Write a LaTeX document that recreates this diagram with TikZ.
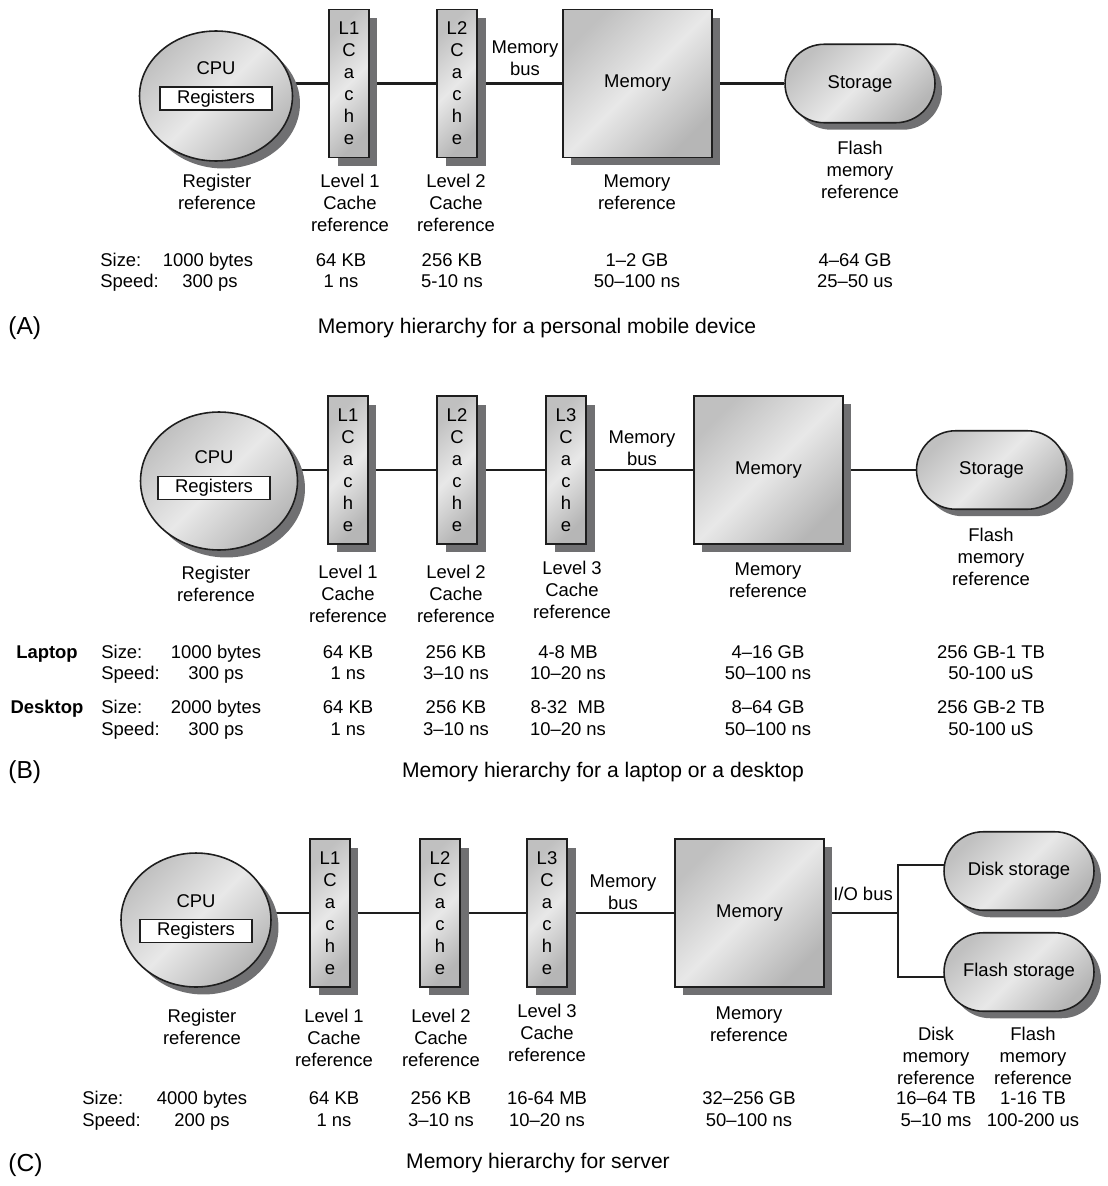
\documentclass[tikz,border=0pt]{standalone}
\usepackage{fontspec}
\setmainfont{Liberation Sans}
\usetikzlibrary{positioning,shapes.misc,shapes.geometric,shadows,backgrounds}
\definecolor{hwshadow}{HTML}{707072}
\definecolor{hwlight}{HTML}{E8E8E8}
\definecolor{hwtop}{HTML}{C0C0C0}
\definecolor{hwbottom}{HTML}{B6B6B6}
\definecolor{hwline}{HTML}{1E1E1E}
\tikzset{
  hwpart/.style={
    draw=hwline,
    line width=0.9pt,
    top color=hwtop,
    bottom color=hwbottom,
    middle color=hwlight,
    shading angle=45,
    inner sep=0pt
  },
  cpu/.style={
    hwpart,
    ellipse,
    drop shadow={shadow xshift=0.15cm, shadow yshift=-0.15cm, fill=hwshadow, opacity=1}
  },
  regs/.style={
    draw=hwline,
    fill=white,
    line width=0.6pt,
    minimum width=2.24cm,
    minimum height=0.46cm,
    inner sep=0pt
  },
  cache/.style={
    hwpart,
    rectangle,
    align=center,
    minimum width=0.8cm,
    minimum height=2.96cm,
    drop shadow={shadow xshift=0.17cm, shadow yshift=-0.17cm, fill=hwshadow, opacity=1}
  },
  mem/.style={
    hwpart,
    rectangle,
    minimum width=2.98cm,
    minimum height=2.96cm,
    drop shadow={shadow xshift=0.16cm, shadow yshift=-0.16cm, fill=hwshadow, opacity=1}
  },
  store/.style={
    hwpart,
    rounded rectangle,
    minimum width=3.0cm,
    minimum height=1.57cm,
    drop shadow={shadow xshift=0.14cm, shadow yshift=-0.14cm, fill=hwshadow, opacity=1}
  },
  lbl/.style={align=center, inner sep=0pt},
  val/.style={inner sep=0pt, text height=7.8pt, text depth=2.3pt},
  row/.style={val, anchor=west},
  kind/.style={val, font=\fontsize{10.5}{12.5}\selectfont\bfseries},
  tag/.style={anchor=west, inner sep=0pt, font=\fontsize{14}{16}\selectfont},
  figcap/.style={inner sep=0pt, font=\fontsize{12}{14}\selectfont},
  bus/.style={draw=hwline, line width=1.4pt}
}

\begin{document}
\begin{tikzpicture}[x=0.02cm, y=-0.02cm, font=\fontsize{10.5}{12.5}\selectfont]
\useasboundingbox (0,0) rectangle (1107,1186);

% (A) personal mobile device
\node[cpu, minimum width=3.06cm, minimum height=2.6cm] (cpuA) at (216,96) {};
\node[val] (cpuTxtA) at (216,70) {CPU};
\node[regs] (regA) at (216,98.5) {Registers};
\node[cache] (l1A) at (349,83.5) {L1\\C\\a\\c\\h\\e};
\node[cache] (l2A) at (457,83.5) {L2\\C\\a\\c\\h\\e};
\node[mem] (memA) at (637.5,83.5) {Memory};
\node[store] (stA) at (860,83.5) {Storage};
\node[lbl] (busA) at (525,58) {Memory\\bus};

\node[lbl] (refRegA) at (217,192) {Register\\reference};
\node[lbl] (refL1A) at (350,203) {Level 1\\Cache\\reference};
\node[lbl] (refL2A) at (456,203) {Level 2\\Cache\\reference};
\node[lbl] (refMemA) at (637,192) {Memory\\reference};
\node[lbl] (refStA) at (860,170) {Flash\\memory\\reference};

\node[row] (sizeA) at (100,262) {Size:};
\node[row] (speedA) at (100,283) {Speed:};
\node[val] (szA1) at (208,262) {1000 bytes};
\node[val] (spA1) at (210,283) {300 ps};
\node[val] (szA2) at (341,262) {64 KB};
\node[val] (spA2) at (341,283) {1 ns};
\node[val] (szA3) at (452,262) {256 KB};
\node[val] (spA3) at (452,283) {5-10 ns};
\node[val] (szA4) at (637,262) {1--2 GB};
\node[val] (spA4) at (637,283) {50--100 ns};
\node[val] (szA5) at (855,262) {4--64 GB};
\node[val] (spA5) at (855,283) {25--50 us};

\node[tag] (tagA) at (8,328) {(A)};
\node[figcap] (capA) at (537,328) {Memory hierarchy for a personal mobile device};

\begin{scope}[on background layer]
\draw[bus] (cpuA.center |- l1A.west) -- (l1A.west);
\draw[bus] (l1A) -- (l2A);
\draw[bus] (l2A) -- (memA);
\draw[bus] (memA) -- (stA);
\end{scope}

% (B) laptop or desktop
\node[cpu, minimum width=3.14cm, minimum height=2.76cm] (cpuB) at (219,481) {};
\node[val] (cpuTxtB) at (214,459) {CPU};
\node[regs] (regB) at (214,488) {Registers};
\node[cache] (l1B) at (348,470) {L1\\C\\a\\c\\h\\e};
\node[cache] (l2B) at (457,470) {L2\\C\\a\\c\\h\\e};
\node[cache] (l3B) at (566,470) {L3\\C\\a\\c\\h\\e};
\node[mem] (memB) at (768.5,470) {Memory};
\node[store] (stB) at (991.5,470) {Storage};
\node[lbl] (busB) at (642,448) {Memory\\bus};

\node[lbl] (refRegB) at (216,584) {Register\\reference};
\node[lbl] (refL1B) at (348,594) {Level 1\\Cache\\reference};
\node[lbl] (refL2B) at (456,594) {Level 2\\Cache\\reference};
\node[lbl] (refL3B) at (572,590) {Level 3\\Cache\\reference};
\node[lbl] (refMemB) at (768,580) {Memory\\reference};
\node[lbl] (refStB) at (991,557) {Flash\\memory\\reference};

\node[kind] (laptop) at (47,654) {Laptop};
\node[row] (sizeB) at (101,654) {Size:};
\node[row] (speedB) at (101,675) {Speed:};
\node[val] (szB1) at (216,654) {1000 bytes};
\node[val] (spB1) at (216,675) {300 ps};
\node[val] (szB2) at (348,654) {64 KB};
\node[val] (spB2) at (348,675) {1 ns};
\node[val] (szB3) at (456,654) {256 KB};
\node[val] (spB3) at (456,675) {3--10 ns};
\node[val] (szB4) at (568,654) {4-8 MB};
\node[val] (spB4) at (568,675) {10--20 ns};
\node[val] (szB5) at (768,654) {4--16 GB};
\node[val] (spB5) at (768,675) {50--100 ns};
\node[val] (szB6) at (991,654) {256 GB-1 TB};
\node[val] (spB6) at (991,675) {50-100 uS};

\node[kind] (desktop) at (47,709) {Desktop};
\node[row] (sizeD) at (101,709) {Size:};
\node[row] (speedD) at (101,731) {Speed:};
\node[val] (szD1) at (216,709) {2000 bytes};
\node[val] (spD1) at (216,731) {300 ps};
\node[val] (szD2) at (348,709) {64 KB};
\node[val] (spD2) at (348,731) {1 ns};
\node[val] (szD3) at (456,709) {256 KB};
\node[val] (spD3) at (456,731) {3--10 ns};
\node[val] (szD4) at (568,709) {8-32\ \ MB};
\node[val] (spD4) at (568,731) {10--20 ns};
\node[val] (szD5) at (768,709) {8--64 GB};
\node[val] (spD5) at (768,731) {50--100 ns};
\node[val] (szD6) at (991,709) {256 GB-2 TB};
\node[val] (spD6) at (991,731) {50-100 uS};

\node[tag] (tagB) at (8,772) {(B)};
\node[figcap] (capB) at (603,772) {Memory hierarchy for a laptop or a desktop};

\begin{scope}[on background layer]
\draw[bus] (cpuB.center |- l1B.west) -- (l1B.west);
\draw[bus] (l1B) -- (l2B);
\draw[bus] (l2B) -- (l3B);
\draw[bus] (l3B) -- (memB);
\draw[bus] (memB) -- (stB);
\end{scope}

% (C) server
\node[cpu, minimum width=3.0cm, minimum height=2.68cm] (cpuC) at (196,920) {};
\node[val] (cpuTxtC) at (196,903) {CPU};
\node[regs] (regC) at (196,931) {Registers};
\node[cache] (l1C) at (330,913) {L1\\C\\a\\c\\h\\e};
\node[cache] (l2C) at (440,913) {L2\\C\\a\\c\\h\\e};
\node[cache] (l3C) at (547,913) {L3\\C\\a\\c\\h\\e};
\node[mem] (memC) at (749.5,913) {Memory};
\node[store] (diskC) at (1019,871) {Disk storage};
\node[store] (flashC) at (1019,972) {Flash storage};
\node[lbl] (busC) at (623,892) {Memory\\bus};
\node[lbl] (ioBusC) at (863,894) {I/O bus};
\coordinate (ioC) at (898,913);
\coordinate (ioTop) at (898,865);
\coordinate (ioBot) at (898,977);

\node[lbl] (refRegC) at (202,1027) {Register\\reference};
\node[lbl] (refL1C) at (334,1038) {Level 1\\Cache\\reference};
\node[lbl] (refL2C) at (441,1038) {Level 2\\Cache\\reference};
\node[lbl] (refL3C) at (547,1033) {Level 3\\Cache\\reference};
\node[lbl] (refMemC) at (749,1024) {Memory\\reference};
\node[lbl] (refDiskC) at (936,1056) {Disk\\memory\\reference};
\node[lbl] (refFlashC) at (1033,1056) {Flash\\memory\\reference};

\node[row] (sizeC) at (82,1100) {Size:};
\node[row] (speedC) at (82,1122) {Speed:};
\node[val] (szC1) at (202,1100) {4000 bytes};
\node[val] (spC1) at (202,1122) {200 ps};
\node[val] (szC2) at (334,1100) {64 KB};
\node[val] (spC2) at (334,1122) {1 ns};
\node[val] (szC3) at (441,1100) {256 KB};
\node[val] (spC3) at (441,1122) {3--10 ns};
\node[val] (szC4) at (547,1100) {16-64 MB};
\node[val] (spC4) at (547,1122) {10--20 ns};
\node[val] (szC5) at (749,1100) {32--256 GB};
\node[val] (spC5) at (749,1122) {50--100 ns};
\node[val] (szC6) at (936,1100) {16--64 TB};
\node[val] (spC6) at (936,1122) {5--10 ms};
\node[val] (szC7) at (1033,1100) {1-16 TB};
\node[val] (spC7) at (1033,1122) {100-200 us};

\node[tag] (tagC) at (8,1165) {(C)};
\node[figcap] (capC) at (538,1163) {Memory hierarchy for server};

\begin{scope}[on background layer]
\draw[bus] (cpuC.center |- l1C.west) -- (l1C.west);
\draw[bus] (l1C) -- (l2C);
\draw[bus] (l2C) -- (l3C);
\draw[bus] (l3C) -- (memC);
\draw[bus] (memC) -- (ioC);
\draw[bus] (diskC.center |- ioTop) -| (ioBot) -- (flashC.center |- ioBot);
\end{scope}

\end{tikzpicture}
\end{document}
